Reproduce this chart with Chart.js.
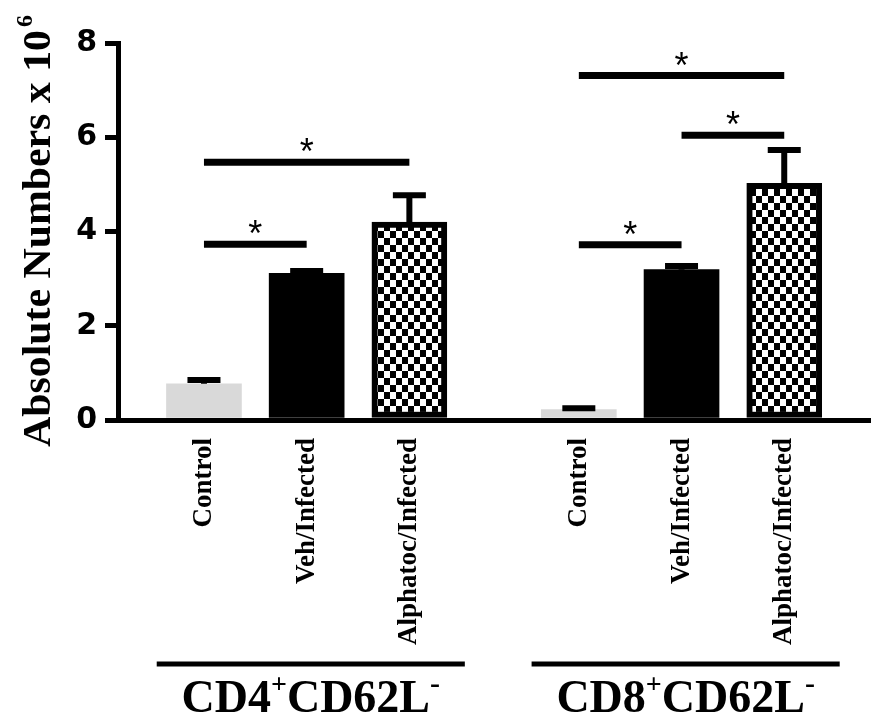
<!DOCTYPE html>
<html>
<head>
<meta charset="utf-8">
<script src="https://cdn.jsdelivr.net/npm/chart.js@4.4.1/dist/chart.umd.min.js"></script>
<style>
  html, body { margin: 0; padding: 0; background: #fff; }
</style>
</head>
<body>
<canvas id="cellChart" width="886" height="719"></canvas>
<script>
const categories = ['Control', 'Veh/Infected', 'Alphatoc/Infected', 'Control', 'Veh/Infected', 'Alphatoc/Infected'];
const groupOf = [0, 0, 0, 1, 1, 1];
const groupNames = ['CD4', 'CD8'];
const meanValues = [0.77, 3.11, 4.20, 0.22, 3.19, 5.02];
const semValues = [0.08, 0.05, 0.57, 0.03, 0.08, 0.71];
const yTicks = [0, 2, 4, 6, 8];
// significance bars: from bar, to bar, height (x 10^6)
const sigFrom = [0, 0, 3, 4, 3];
const sigTo = [1, 2, 4, 5, 5];
const sigHeight = [3.73, 5.47, 3.72, 6.04, 7.31];

const groupGap = 0.65;
function xPos(i) {
  return i + groupOf[i] * groupGap;
}

const ctx = document.getElementById('cellChart').getContext('2d');

function checkerPattern() {
  const c = document.createElement('canvas');
  c.width = 12; c.height = 14;
  const g = c.getContext('2d');
  g.fillStyle = '#fff';
  g.fillRect(0, 0, 12, 14);
  g.fillStyle = '#000';
  g.fillRect(0, 0, 6, 7);
  g.fillRect(6, 7, 6, 7);
  return ctx.createPattern(c, 'repeat');
}
const fills = ['#d9d9d9', '#000000', checkerPattern()];

const extras = {
  id: 'extras',
  afterDatasetsDraw(chart) {
    const c = chart.ctx;
    const x = chart.scales.x, y = chart.scales.y;
    c.save();
    c.strokeStyle = '#000';
    c.fillStyle = '#000';
    // error bars
    c.lineWidth = 6;
    meanValues.forEach((m, i) => {
      const px = x.getPixelForValue(xPos(i));
      const top = y.getPixelForValue(m + semValues[i]);
      const base = y.getPixelForValue(m);
      c.beginPath();
      c.moveTo(px, base); c.lineTo(px, top);
      c.moveTo(px - 16.5, top); c.lineTo(px + 16.5, top);
      c.stroke();
    });
    // significance
    c.lineWidth = 7;
    c.font = '36px "Liberation Sans"';
    c.textAlign = 'center';
    c.textBaseline = 'alphabetic';
    sigHeight.forEach((h, k) => {
      const x1 = x.getPixelForValue(xPos(sigFrom[k]));
      const x2 = x.getPixelForValue(xPos(sigTo[k]));
      const py = y.getPixelForValue(h);
      c.beginPath();
      c.moveTo(x1, py); c.lineTo(x2, py);
      c.stroke();
      c.fillText('*', (x1 + x2) / 2, py + 2);
    });
    c.restore();
  },
  afterDraw(chart) {
    const c = chart.ctx;
    const x = chart.scales.x;
    c.save();
    c.fillStyle = '#000';
    c.strokeStyle = '#000';
    // y axis title
    c.save();
    c.translate(50, 447);
    c.rotate(-Math.PI / 2);
    c.font = 'bold 40px "Liberation Serif"';
    c.textAlign = 'left';
    c.textBaseline = 'alphabetic';
    const main = 'Absolute Numbers x 10';
    const w = c.measureText(main).width;
    c.save();
    c.scale(417 / w, 1);
    c.fillText(main, 0, 0);
    c.restore();
    c.font = 'bold 24px "Liberation Serif"';
    c.fillText('6', 420, -18);
    c.restore();
    // group lines and titles
    groupNames.forEach((name, gi) => {
      const idx = groupOf.map((g, i) => g === gi ? i : -1).filter(i => i >= 0);
      const left = x.getPixelForValue(xPos(idx[0]) - 0.46);
      const right = x.getPixelForValue(xPos(idx[idx.length - 1]) + 0.54);
      c.lineWidth = 5;
      c.beginPath();
      c.moveTo(left, 664); c.lineTo(right, 664);
      c.stroke();
      const parts = [[name, 46, 0], ['+', 28, 19], ['CD62L', 46, 0], ['-', 30, 19]];
      let total = 0;
      parts.forEach(p => {
        c.font = 'bold ' + p[1] + 'px "Liberation Serif"';
        p.push(c.measureText(p[0]).width);
        total += p[3];
      });
      let cx = (left + right) / 2 - total / 2;
      c.textAlign = 'left';
      c.textBaseline = 'alphabetic';
      parts.forEach(p => {
        c.font = 'bold ' + p[1] + 'px "Liberation Serif"';
        c.fillText(p[0], cx, 712 - p[2]);
        cx += p[3];
      });
    });
    c.restore();
  }
};

const cellChart = new Chart(ctx, {
  type: 'bar',
  data: {
    datasets: [{
      data: meanValues.map((v, i) => ({ x: xPos(i), y: v })),
      backgroundColor: c => fills[c.dataIndex % 3],
      borderColor: '#000',
      borderWidth: c => (c.dataIndex % 3 === 2 ? 6 : 0),
      borderSkipped: false,
      barThickness: 75
    }]
  },
  options: {
    responsive: false,
    animation: false,
    devicePixelRatio: 1,
    layout: { padding: { top: 43, right: 16, left: 0, bottom: 0 } },
    plugins: { legend: { display: false }, tooltip: { enabled: false } },
    scales: {
      x: {
        type: 'linear',
        offset: false,
        min: -0.837,
        max: 6.485,
        afterFit(scale) { scale.height = 299; },
        afterBuildTicks(scale) {
          scale.ticks = categories.map((c, i) => ({ value: xPos(i) }));
        },
        grid: { display: false },
        border: { display: true, color: '#000', width: 5, z: 1 },
        ticks: {
          autoSkip: false,
          minRotation: 90,
          maxRotation: 90,
          padding: 10,
          color: '#000',
          font: { family: '"Liberation Serif"', weight: 'bold', size: 27 },
          callback: (v, i) => categories[i]
        }
      },
      y: {
        min: 0,
        max: 8,
        afterFit(scale) { scale.width = 118; },
        afterBuildTicks(scale) {
          scale.ticks = yTicks.map(v => ({ value: v }));
        },
        grid: { drawOnChartArea: false, drawTicks: true, tickLength: 13, lineWidth: 5, color: '#000' },
        border: { display: true, color: '#000', width: 5, z: 1 },
        ticks: {
          padding: 8,
          color: '#000',
          font: { family: '"DejaVu Sans"', weight: 'bold', size: 30 }
        }
      }
    }
  },
  plugins: [extras]
});
</script>
</body>
</html>
